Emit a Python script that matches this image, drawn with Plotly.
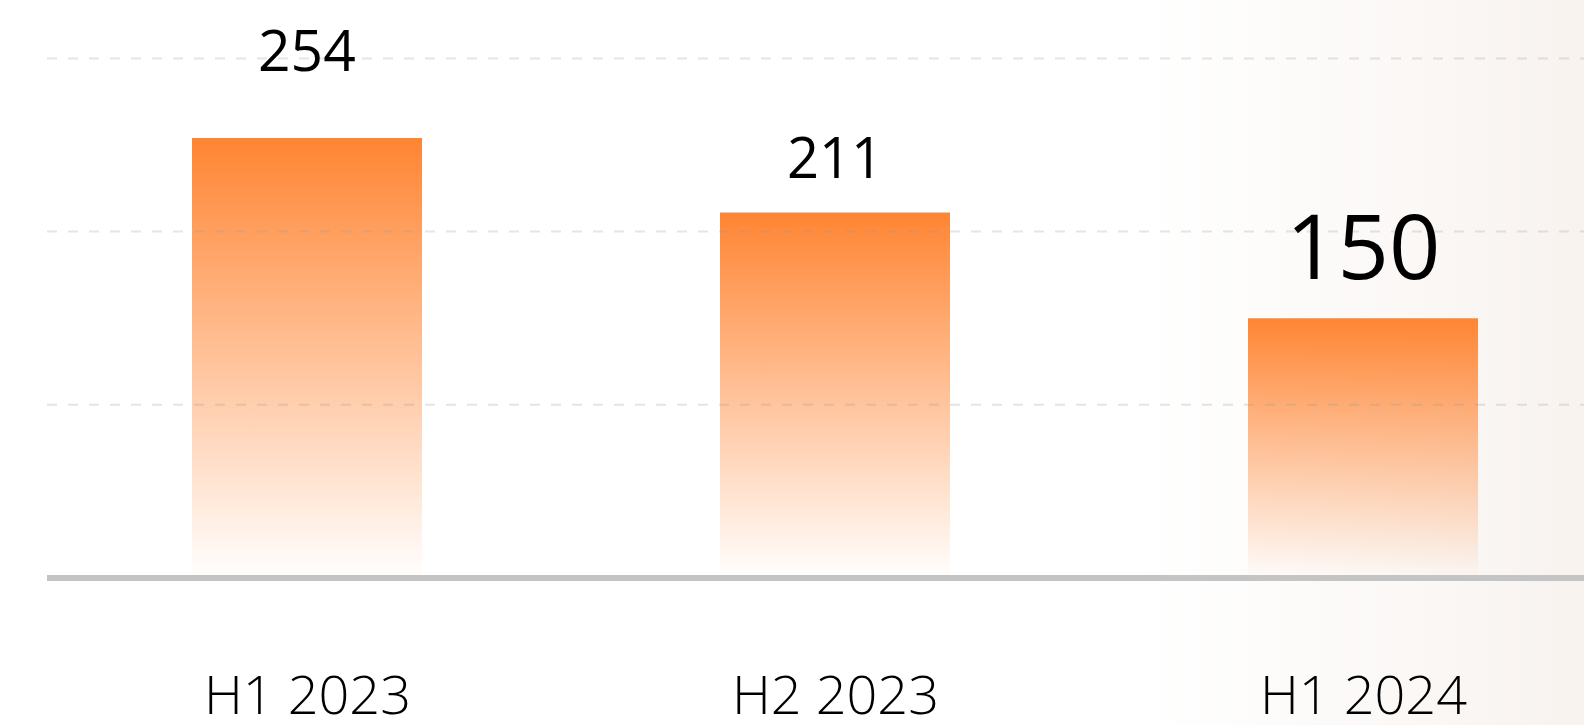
import plotly.graph_objects as go

# ---- data ----
categories = ["H1 2023", "H2 2023", "H1 2024"]
values = [254, 211, 150]
value_labels = ["254", "211", "150"]
grid_values = [100, 200, 300]

# ---- style ----
W, H = 1584, 725
cat_px = 528.0          # pixels between category centres
x0_px = 307.0           # pixel of first category centre
y0_px = 578.0           # pixel of value 0
unit_px = 1.732         # pixels per value unit
bar_w = 230.0 / cat_px  # bar width in category units
plot_left = 47.0

label_sizes = [57, 56, 90]
label_shift = [89, 57, 74]
orange = "255,133,51"

xr = [(0 - x0_px) / cat_px, (W - x0_px) / cat_px]
yr = [-(H - y0_px) / unit_px, y0_px / unit_px]

fig = go.Figure()

# subtle warm background on the right
bg_start = (1140 - x0_px) / cat_px
fig.add_trace(go.Scatter(
    x=[bg_start, xr[1], xr[1], bg_start, bg_start],
    y=[yr[0], yr[0], yr[1], yr[1], yr[0]],
    mode="lines", line=dict(width=0), fill="toself",
    fillgradient=dict(type="horizontal",
                      colorscale=[[0, "rgba(247,241,237,0)"],
                                  [0.5, "rgba(247,241,237,0.4)"],
                                  [1, "rgba(247,241,237,0.9)"]]),
    hoverinfo="skip", showlegend=False,
))

# bars with vertical gradient
for i, v in enumerate(values):
    fig.add_trace(go.Scatter(
        x=[i - bar_w / 2, i + bar_w / 2, i + bar_w / 2, i - bar_w / 2, i - bar_w / 2],
        y=[0, 0, v, v, 0],
        mode="lines", line=dict(width=0), fill="toself",
        fillgradient=dict(type="vertical",
                          colorscale=[[0, f"rgba({orange},0)"], [1, f"rgba({orange},1)"]]),
        hoverinfo="skip", showlegend=False,
    ))

shapes = []
for g in grid_values:
    shapes.append(dict(type="line", xref="paper", yref="y", x0=plot_left / W, x1=1,
                       y0=g, y1=g, layer="above",
                       line=dict(color="rgba(150,150,150,0.25)", width=2, dash="10px,11px")))
shapes.append(dict(type="line", xref="paper", yref="y", x0=plot_left / W, x1=1,
                   y0=0, y1=0, layer="above", line=dict(color="#c4c4c4", width=6)))

annotations = []
for i, (v, t) in enumerate(zip(values, value_labels)):
    annotations.append(dict(x=i, y=v, xref="x", yref="y", text=t, showarrow=False,
                            yanchor="middle", yshift=label_shift[i],
                            font=dict(family="Open Sans", size=label_sizes[i], color="#000")))
for i, c in enumerate(categories):
    annotations.append(dict(x=i, y=0, xref="x", yref="y", text=c, showarrow=False,
                            yanchor="middle", yshift=-115, height=56, valign="middle",
                            font=dict(family="Open Sans", size=54, color="#000", weight=300)))

fig.update_layout(
    width=W, height=H,
    margin=dict(l=0, r=0, t=0, b=0),
    paper_bgcolor="white", plot_bgcolor="rgba(0,0,0,0)",
    xaxis=dict(domain=[0, 1], range=xr, visible=False, fixedrange=True),
    yaxis=dict(domain=[0, 1], range=yr, visible=False, fixedrange=True),
    shapes=shapes, annotations=annotations, showlegend=False,
)

fig.write_html("out.html", config={"displayModeBar": False},
               post_script="document.body.style.margin='0';document.body.style.overflow='hidden';")
